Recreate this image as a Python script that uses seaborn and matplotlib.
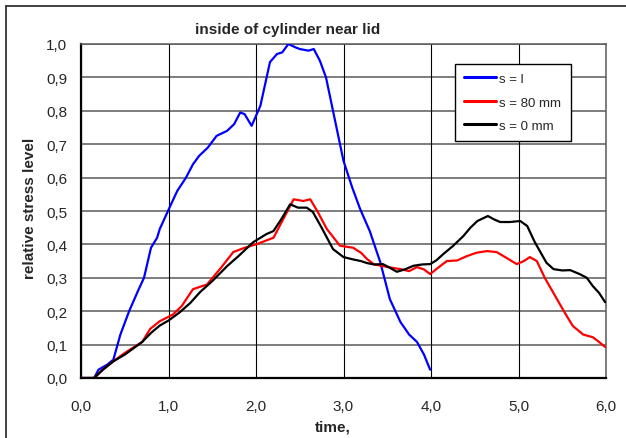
import numpy as np
import pandas as pd
import matplotlib
matplotlib.use("Agg")
import matplotlib.pyplot as plt
from matplotlib.lines import Line2D
import seaborn as sns

# series
t_l = [0.0, 0.15, 0.2, 0.3, 0.37, 0.45, 0.55, 0.65, 0.72, 0.8, 0.87, 0.9, 1.02, 1.1, 1.2,
       1.28, 1.35, 1.45, 1.55, 1.67, 1.75, 1.82, 1.87, 1.95, 2.05, 2.16, 2.24, 2.3, 2.37,
       2.45, 2.5, 2.6, 2.66, 2.73, 2.8, 2.88, 3.0, 3.1, 3.19, 3.3, 3.42, 3.53, 3.65, 3.75,
       3.84, 3.92, 3.99]
s_l = [0.0, 0.0, 0.025, 0.04, 0.055, 0.13, 0.2, 0.26, 0.3, 0.39, 0.42, 0.446, 0.515, 0.56, 0.6,
       0.64, 0.665, 0.69, 0.725, 0.74, 0.76, 0.795, 0.79, 0.755, 0.815, 0.946, 0.97, 0.975, 1.0,
       0.99, 0.985, 0.98, 0.985, 0.95, 0.9, 0.8, 0.65, 0.57, 0.506, 0.44, 0.347, 0.236, 0.168, 0.13,
       0.108, 0.07, 0.025]

t_80 = [0.0, 0.15, 0.25, 0.37, 0.5, 0.7, 0.79, 0.9, 1.05, 1.15, 1.28, 1.44, 1.6, 1.74, 1.87,
        2.0, 2.1, 2.2, 2.3, 2.43, 2.54, 2.62, 2.7, 2.81, 2.96, 3.11, 3.2, 3.27, 3.35, 3.45, 3.55,
        3.65, 3.75, 3.84, 3.92, 3.99, 4.08, 4.18, 4.3, 4.41, 4.52, 4.64, 4.75, 4.86, 4.98, 5.06,
        5.13, 5.21, 5.3, 5.44, 5.53, 5.62, 5.74, 5.85, 5.92, 5.99]
s_80 = [0.0, 0.0, 0.025, 0.05, 0.075, 0.108, 0.147, 0.17, 0.19, 0.215, 0.266, 0.28, 0.33, 0.377, 0.39,
        0.40, 0.41, 0.42, 0.47, 0.535, 0.53, 0.535, 0.5, 0.446, 0.396, 0.39, 0.375, 0.356, 0.34, 0.335, 0.33,
        0.326, 0.32, 0.332, 0.325, 0.311, 0.33, 0.35, 0.352, 0.365, 0.375, 0.38, 0.377, 0.36, 0.341, 0.35,
        0.362, 0.35, 0.3, 0.236, 0.195, 0.156, 0.13, 0.122, 0.108, 0.093]

t_0 = [0.0, 0.15, 0.25, 0.37, 0.5, 0.7, 0.8, 0.9, 1.0, 1.13, 1.25, 1.36, 1.5, 1.67, 1.8, 1.97,
       2.12, 2.2, 2.3, 2.39, 2.48, 2.58, 2.65, 2.75, 2.88, 3.0, 3.11, 3.2, 3.27, 3.35, 3.45,
       3.53, 3.61, 3.7, 3.8, 3.9, 3.99, 4.06, 4.14, 4.25, 4.37, 4.45, 4.53, 4.65, 4.72, 4.79,
       4.9, 5.02, 5.1, 5.18, 5.25, 5.32, 5.4, 5.5, 5.59, 5.7, 5.78, 5.85, 5.92, 5.99]
s_0 = [0.0, 0.0, 0.025, 0.05, 0.07, 0.108, 0.135, 0.157, 0.172, 0.197, 0.225, 0.257, 0.29, 0.335, 0.365, 0.407,
       0.431, 0.44, 0.48, 0.52, 0.51, 0.51, 0.497, 0.45, 0.386, 0.362, 0.355, 0.35, 0.344, 0.34, 0.341,
       0.33, 0.318, 0.325, 0.336, 0.34, 0.341, 0.352, 0.371, 0.395, 0.425, 0.45, 0.47, 0.485, 0.475, 0.467,
       0.467, 0.47, 0.455, 0.41, 0.377, 0.345, 0.326, 0.322, 0.323, 0.311, 0.3, 0.275, 0.255, 0.227]

series_names = ["s = l", "s = 80 mm", "s = 0 mm"]
series_colors = ["#0000ff", "#ff0000", "#000000"]

x_ticks = [0, 1, 2, 3, 4, 5, 6]
x_labels = ["0,0", "1,0", "2,0", "3,0", "4,0", "5,0", "6,0"]
y_ticks = [0.0, 0.1, 0.2, 0.3, 0.4, 0.5, 0.6, 0.7, 0.8, 0.9, 1.0]
y_labels = ["0,0", "0,1", "0,2", "0,3", "0,4", "0,5", "0,6", "0,7", "0,8", "0,9", "1,0"]

sns.set_style("white")
plt.rcParams['font.family'] = ['Liberation Sans', 'DejaVu Sans']

df = pd.concat([
    pd.DataFrame({"time": t_l, "level": s_l, "series": series_names[0]}),
    pd.DataFrame({"time": t_80, "level": s_80, "series": series_names[1]}),
    pd.DataFrame({"time": t_0, "level": s_0, "series": series_names[2]}),
], ignore_index=True)

fig = plt.figure(figsize=(6.26, 4.39), dpi=100)
ax = fig.add_axes([81/626, 1-379/439, 525/626, 334/439])

# grid first so the curves sit on top
for y in y_ticks:
    ax.axhline(y, color="#5a5a5a", lw=1.1, zorder=1)
for x in x_ticks:
    ax.axvline(x, color="#000000", lw=0.8, zorder=1)

sns.lineplot(data=df, x="time", y="level", hue="series", hue_order=series_names,
             palette=series_colors, lw=1.6, ax=ax, legend=False, sort=False,
             estimator=None, zorder=3)

ax.set_xlim(0, 6)
ax.set_ylim(0, 1)
ax.set_xticks(x_ticks)
ax.set_xticklabels(x_labels, fontsize=11)
ax.set_yticks(y_ticks)
ax.set_yticklabels(y_labels, fontsize=11)
ax.tick_params(axis="both", direction="out", length=4, width=1.2, color="black", pad=6)
ax.tick_params(axis="x", pad=11)
ax.set_xlabel("")
ax.set_ylabel("")

for side in ["left", "bottom"]:
    ax.spines[side].set_color("black")
    ax.spines[side].set_linewidth(1.6)
for side in ["top", "right"]:
    ax.spines[side].set_color("#5a5a5a")
    ax.spines[side].set_linewidth(1.1)

fig.text(288/626, 1-30/439, "inside of cylinder near lid", ha="center", va="center",
         fontsize=11, fontweight="bold")
fig.text(333/626, 1-428/439, "time,", ha="center", va="center", fontsize=11, fontweight="bold")
fig.text(30/626, 1-208/439, "relative stress level", ha="center", va="center",
         rotation=90, fontsize=11, fontweight="bold")

handles = [Line2D([], [], color=c, lw=2.2) for c in series_colors]
leg = fig.legend(handles, series_names, loc="upper left",
                 bbox_to_anchor=(448/626, 1-58/439), bbox_transform=fig.transFigure,
                 fontsize=9.5, frameon=True, fancybox=False, handlelength=2.4,
                 labelspacing=0.85, borderpad=0.7, handletextpad=0.3)
leg.get_frame().set_edgecolor("black")
leg.get_frame().set_linewidth(1.0)
leg.get_frame().set_alpha(1)

# outer chart frame (runs off the right and bottom)
fig.add_artist(Line2D([6/626, 6/626], [0, 1-7/439], color="#333333", lw=1.3,
                      transform=fig.transFigure))
fig.add_artist(Line2D([6/626, 1], [1-7/439, 1-7/439], color="#333333", lw=1.3,
                      transform=fig.transFigure))

fig.savefig("out.png", dpi=100)
